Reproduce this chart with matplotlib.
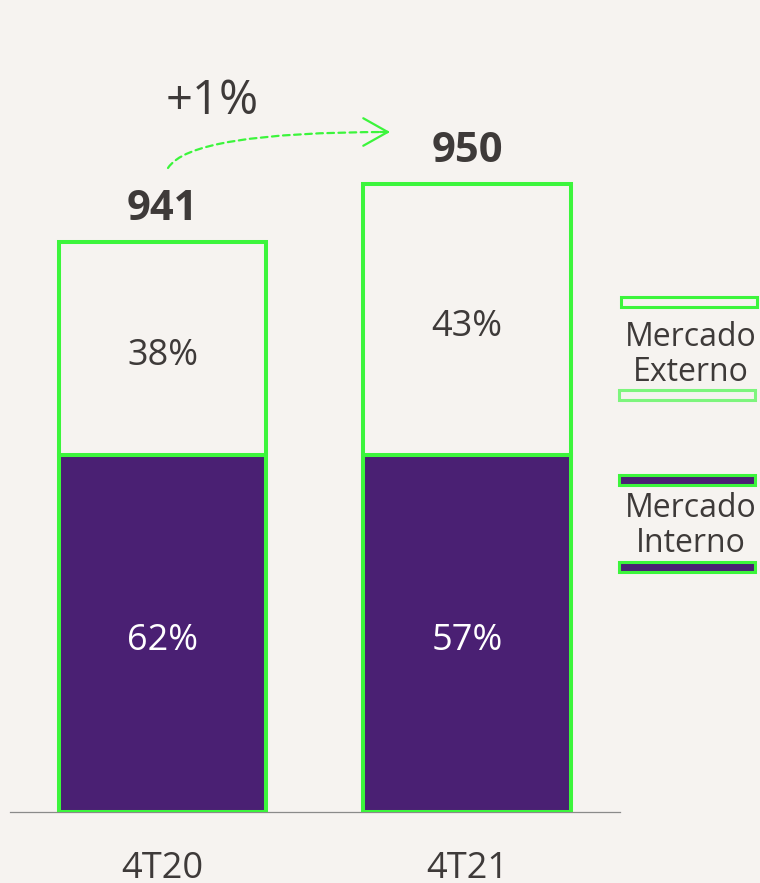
import matplotlib.pyplot as plt
from matplotlib.patches import Rectangle

plt.rcParams['font.family'] = ['Open Sans', 'DejaVu Sans']

# dados
periodos = ['4T20', '4T21']
totais = [941, 950]
pct_interno = [62, 57]
pct_externo = [38, 43]
crescimento = '+1%'
# alturas desenhadas no gráfico original (não proporcionais)
altura_interno = [357, 357]
altura_externo = [213, 271]

fundo = '#F6F3F0'
roxo = '#4A2073'
verde = '#3CF53C'
verde_claro = '#7DF57D'
texto = '#3E3A39'

W, H = 760, 883
fig = plt.figure(figsize=(W / 100, H / 100), dpi=100)
fig.patch.set_facecolor(fundo)

ax = fig.add_axes([10 / W, (H - 812) / H, 610 / W, 812 / H])
ax.set_facecolor(fundo)

x = [0, 1]
larg = 0.68
ax.bar(x, altura_interno, width=larg, color=roxo, edgecolor=verde,
       linewidth=2.9, zorder=3)
ax.bar(x, altura_externo, bottom=altura_interno, width=larg, color=fundo,
       edgecolor=verde, linewidth=2.9, zorder=3)

for i in range(len(x)):
    ax.text(x[i], altura_interno[i] / 2 - 3, f'{pct_interno[i]}%', ha='center',
            va='center_baseline', fontsize=26, color='white', zorder=4)
    ax.text(x[i], altura_interno[i] + altura_externo[i] / 2 - 3,
            f'{pct_externo[i]}%', ha='center', va='center_baseline',
            fontsize=26, color=texto, zorder=4)
    topo = altura_interno[i] + altura_externo[i]
    ax.text(x[i], topo + 37, f'{totais[i]}', ha='center', va='center_baseline',
            fontsize=30, fontweight='bold', color=texto)

ax.set_xlim(-0.5008, 1.5025)
ax.set_ylim(0, 812)
ax.set_xticks(x)
ax.set_xticklabels(periodos, fontsize=26, color=texto)
ax.tick_params(axis='x', length=0, pad=28)
ax.set_yticks([])
for s in ['top', 'left', 'right']:
    ax.spines[s].set_visible(False)
ax.spines['bottom'].set_color('#8A8A8A')
ax.spines['bottom'].set_linewidth(0.9)

# seta de crescimento: curva tracejada + ponta sólida
ax.annotate('', xy=(388, H - 132), xycoords='figure pixels',
            xytext=(168, H - 168), textcoords='figure pixels',
            arrowprops=dict(arrowstyle='-',
                            connectionstyle='angle3,angleA=58,angleB=0',
                            color=verde, lw=1.6, linestyle=(0, (3, 2)),
                            shrinkA=0, shrinkB=0))
ax.annotate('', xy=(390, H - 132), xycoords='figure pixels',
            xytext=(380, H - 132), textcoords='figure pixels',
            arrowprops=dict(arrowstyle='->,head_length=0.8,head_width=0.45',
                            color=verde, lw=1.6, mutation_scale=22,
                            shrinkA=0, shrinkB=0))
fig.text(212 / W, 1 - 96 / H, crescimento, ha='center', va='center_baseline',
         fontsize=34, color=texto)

# legenda
def faixa(x0, y0, cor, borda):
    fig.patches.append(Rectangle((x0 / W, 1 - (y0 + 10) / H), 136 / W, 10 / H,
                                 transform=fig.transFigure, facecolor=cor,
                                 edgecolor=borda, linewidth=2.2))

faixa(621, 297, fundo, verde)
faixa(619, 390, fundo, verde_claro)
faixa(619, 475, roxo, verde)
faixa(619, 562, roxo, verde)
fig.text(691 / W, 1 - 355 / H, 'Mercado\nExterno', ha='center', va='center',
         fontsize=23, color=texto, linespacing=1.1)
fig.text(691 / W, 1 - 526 / H, 'Mercado\nInterno', ha='center', va='center',
         fontsize=23, color=texto, linespacing=1.1)

fig.savefig('out.png', dpi=100, facecolor=fundo)
